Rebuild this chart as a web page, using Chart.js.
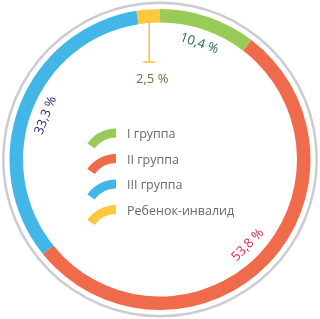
<!DOCTYPE html>
<html>
<head>
<meta charset="utf-8">
<script src="https://cdn.jsdelivr.net/npm/chart.js@4/dist/chart.umd.min.js"></script>
<style>
  html, body { margin: 0; padding: 0; background: #fff; }
  #wrap { width: 320px; height: 319px; position: relative; }
</style>
</head>
<body>
<div id="wrap"><canvas id="groupsChart"></canvas></div>
<script>
const labels = ["I группа", "II группа", "III группа", "Ребенок-инвалид"];
const values = [10.4, 53.8, 33.3, 2.5];
const colors = ["#98cb57", "#f06a4c", "#42b7e7", "#fdc83f"];
const labelColors = ["#1e6a4e", "#e0264a", "#2f2b8a", "#7a6a3a"];

const fmt = (v) => v.toString().replace(".", ",") + " %";

// percent labels around the ring, small slices get a leader line
const ringLabels = {
  id: "ringLabels",
  afterDatasetsDraw(chart) {
    const ctx = chart.ctx;
    const meta = chart.getDatasetMeta(2);
    ctx.save();
    ctx.font = "13px 'Open Sans'";
    ctx.textAlign = "center";
    ctx.textBaseline = "middle";
    meta.data.forEach((arc, i) => {
      const mid = (arc.startAngle + arc.endAngle) / 2;
      const share = values[i] / values.reduce((a, b) => a + b, 0);
      ctx.fillStyle = labelColors[i];
      if (share < 0.05) {
        const lx = arc.x + arc.innerRadius * Math.cos(mid);
        const ly = arc.y + arc.innerRadius * Math.sin(mid);
        const endY = 62;
        ctx.strokeStyle = "#f5c33b";
        ctx.lineWidth = 1.5;
        ctx.beginPath();
        ctx.moveTo(lx, ly);
        ctx.lineTo(lx, endY);
        ctx.moveTo(lx - 6, endY);
        ctx.lineTo(lx + 6, endY);
        ctx.stroke();
        ctx.fillText(fmt(values[i]), lx + 3, endY + 17);
      } else {
        const r = arc.innerRadius - 14.5;
        const x = arc.x + r * Math.cos(mid);
        const y = arc.y + r * Math.sin(mid);
        let rot = mid + Math.PI / 2;
        if (Math.cos(rot) < 0) rot += Math.PI;
        ctx.save();
        ctx.translate(x, y);
        ctx.rotate(rot);
        ctx.fillText(fmt(values[i]), 0, 0);
        ctx.restore();
      }
    });
    ctx.restore();
  }
};

// legend drawn in the hole, with arc shaped markers
const centerLegend = {
  id: "centerLegend",
  afterDraw(chart) {
    const ctx = chart.ctx;
    const ds = chart.data.datasets[2];
    ctx.save();
    ctx.font = "12.5px 'Open Sans'";
    ctx.textBaseline = "middle";
    chart.data.labels.forEach((lab, i) => {
      const rowY = 134.5 + i * 25.5;
      const cx = 116, cy = rowY - 6 + 35;
      ctx.fillStyle = ds.backgroundColor[i];
      ctx.beginPath();
      ctx.arc(cx, cy, 35, (215 * Math.PI) / 180, 1.5 * Math.PI);
      ctx.arc(cx, cy, 26, 1.5 * Math.PI, (215 * Math.PI) / 180, true);
      ctx.closePath();
      ctx.fill();
      ctx.fillStyle = "#6a6a6a";
      ctx.fillText(lab, 127, rowY);
    });
    ctx.restore();
  }
};

const ctx = document.getElementById("groupsChart").getContext("2d");
const groupsChart = new Chart(ctx, {
  type: "doughnut",
  data: {
    labels: labels,
    datasets: [
      { data: [100], backgroundColor: ["#cbcbd1"], weight: 2.5, borderWidth: 0 },
      { data: [100], backgroundColor: ["rgba(0,0,0,0)"], weight: 5, borderWidth: 0 },
      { data: values, backgroundColor: colors, weight: 13.5, borderWidth: 0 }
    ]
  },
  options: {
    responsive: true,
    maintainAspectRatio: false,
    animation: false,
    cutout: "86.7%",
    hoverOffset: 0,
    layout: { padding: { top: 1.5, bottom: 1.5, left: 2, right: 2 } },
    plugins: {
      legend: { display: false },
      tooltip: { enabled: false }
    }
  },
  plugins: [ringLabels, centerLegend]
});
</script>
</body>
</html>
